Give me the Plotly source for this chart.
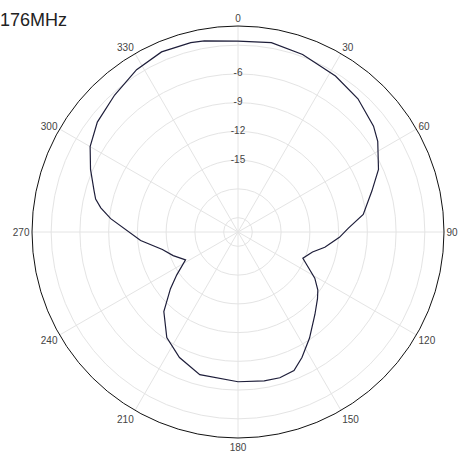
import plotly.graph_objects as go

# Radiation pattern at 176 MHz (angle in degrees, gain in dB)
angles = [0, 10, 20, 32, 42, 52, 57, 66, 73, 82, 88, 93, 100, 105, 112, 121, 126, 130,
          137, 146, 153, 158, 164, 170, 180, 195, 205, 214, 223, 230, 235, 242, 250,
          257, 265, 276, 280, 283, 286, 293, 300, 308, 318, 328, 337, 346, 350, 360]
gain_db = [-2.58, -2.43, -2.78, -3.30, -3.79, -4.55, -5.11, -6.45, -7.89, -9.30, -10.97,
           -11.9, -13.3, -14.45, -15.2, -13.15, -12.2, -11.67, -10.73, -9.15, -7.8, -6.9,
           -6.67, -6.73, -6.87, -7.09, -8.05, -9.21, -11.15, -13.3, -14.7, -16.3, -15.3,
           -14.4, -12.3, -9.14, -7.96, -7.25, -6.87, -5.78, -4.68, -3.87, -3.26, -2.53,
           -2.08, -2.13, -2.25, -2.58]

radial_ticks = [-21, -18, -15, -12, -9, -6, -3]
radial_label_vals = [-15, -12, -9, -6]
radial_label_text = ["-15", "-12", "-9", "-6"]
angular_ticks = list(range(0, 360, 30))
angular_labels = [str(a) for a in angular_ticks]
title_text = "176MHz"

W, H = 459, 453
cx, cy, R = 238, 232, 206

fig = go.Figure()
fig.add_trace(go.Scatterpolar(
    r=gain_db, theta=angles, mode="lines",
    line=dict(color="#1e1e3a", width=1.2),
    showlegend=False, hoverinfo="skip",
))
# radial level labels, centred on the 0° spoke
fig.add_trace(go.Scatterpolar(
    r=radial_label_vals, theta=[0] * len(radial_label_vals), mode="text",
    text=radial_label_text, textposition="middle center",
    textfont=dict(size=10, color="#444", family="Liberation Sans, Arial, sans-serif"),
    showlegend=False, hoverinfo="skip",
))

fig.update_layout(
    width=W, height=H,
    margin=dict(l=0, r=0, t=0, b=0),
    paper_bgcolor="white",
    font=dict(family="Liberation Sans, Arial, sans-serif", size=10, color="#444"),
    polar=dict(
        domain=dict(x=[(cx - R) / W, (cx + R) / W],
                    y=[(H - cy - R) / H, (H - cy + R) / H]),
        bgcolor="white",
        angularaxis=dict(
            rotation=90, direction="clockwise",
            tickvals=angular_ticks, ticktext=angular_labels,
            showline=True, linecolor="#111", linewidth=1,
            showgrid=True, gridcolor="#e4e4e4", gridwidth=1,
            ticks="", tickfont=dict(size=10, color="#444"),
        ),
        radialaxis=dict(
            range=[-22.5, -1.0],
            tickvals=radial_ticks, showticklabels=False,
            angle=90,
            showline=False, showgrid=True, gridcolor="#e4e4e4", gridwidth=1,
            ticks="",
        ),
    ),
    annotations=[dict(
        text=title_text, xref="paper", yref="paper",
        x=-2 / W, y=1 - 20 / H, xanchor="left", yanchor="middle",
        showarrow=False, font=dict(size=18, color="#222",
                                   family="Liberation Sans, Arial, sans-serif"),
    )],
)

fig.write_html(
    "out.html",
    config={"displayModeBar": False},
    post_script="document.body.style.margin='0';document.body.style.overflow='hidden';",
)
